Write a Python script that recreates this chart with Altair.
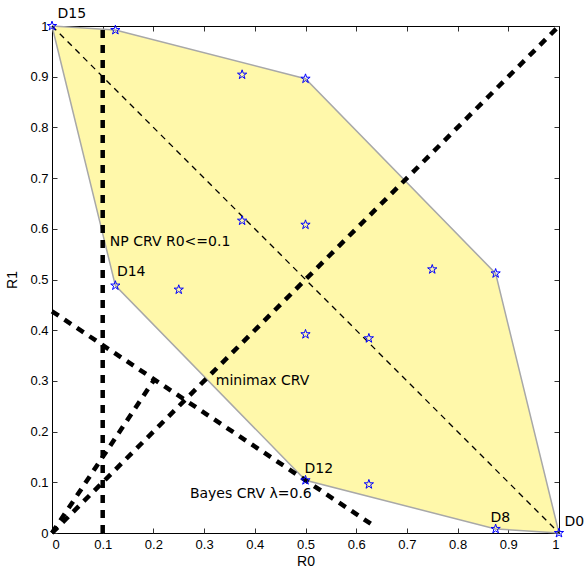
import altair as alt
import pandas as pd

# Risk points of the 16 decision rules D0..D15 (R0, R1)
rule_names = ["D%d" % i for i in range(16)]
rule_r0 = [1, 0.875, 0.625, 0.5, 0.625, 0.5, 0.25, 0.125,
           0.875, 0.75, 0.5, 0.375, 0.5, 0.375, 0.125, 0]
rule_r1 = [0, 0.512, 0.384, 0.896, 0.096, 0.608, 0.48, 0.992,
           0.008, 0.52, 0.392, 0.904, 0.104, 0.616, 0.488, 1]

# Convex hull of the risk set
hull_r0 = [0, 0.125, 0.5, 0.875, 1]
hull_upper = [1, 0.992, 0.896, 0.512, 0]
hull_lower = [1, 0.488, 0.104, 0.008, 0]

# Thin dashed line D15 -> D0
diag_r0 = [0, 1]
diag_r1 = [1, 0]

# Thick dashed CRV lines
crv_names = ["minimax", "minimax", "np", "np", "bayes", "bayes", "normal", "normal"]
crv_r0 = [0, 1, 0.1, 0.1, 0, 0.635, 0, 0.202]
crv_r1 = [0, 1, 0, 1, 0.4373, 0.014, 0, 0.303]

# Annotations
labels = ["D15", "D14", "D12", "D8", "D0", "NP CRV R0<=0.1", "minimax CRV", "Bayes CRV \u03bb=0.6"]
label_r0 = [0.011, 0.128, 0.498, 0.865, 1.011, 0.114, 0.323, 0.272]
label_r1 = [1.023, 0.515, 0.126, 0.029, 0.021, 0.574, 0.300, 0.077]

tick_values = [0, 0.1, 0.2, 0.3, 0.4, 0.5, 0.6, 0.7, 0.8, 0.9, 1]

W = 507
H = 507

points_df = pd.DataFrame({"name": rule_names, "r0": rule_r0, "r1": rule_r1})
hull_df = pd.DataFrame({"r0": hull_r0, "upper": hull_upper, "lower": hull_lower})
edge_df = pd.concat([
    pd.DataFrame({"r0": hull_r0, "r1": hull_upper, "side": "upper"}),
    pd.DataFrame({"r0": hull_r0, "r1": hull_lower, "side": "lower"}),
])
diag_df = pd.DataFrame({"r0": diag_r0, "r1": diag_r1})
crv_df = pd.DataFrame({"name": crv_names, "r0": crv_r0, "r1": crv_r1})
label_df = pd.DataFrame({"label": labels, "r0": label_r0, "r1": label_r1})

sc = alt.Scale(domain=[0, 1], nice=False, zero=False)

common = dict(values=tick_values, grid=False, tickColor="#333333",
              domainColor="black", domainWidth=1, tickWidth=1)

# Main axes with labels (bottom / left), no ticks
x_main = alt.Axis(orient="bottom", format="~g", tickSize=0, labelPadding=5,
                  labelFont="Liberation Sans", labelFontSize=13, labelColor="black",
                  title="R0", titleFont="Liberation Sans", titleFontSize=14,
                  titleFontWeight="normal", titleColor="black", titlePadding=3, **common)
y_main = alt.Axis(orient="left", format="~g", tickSize=0, labelPadding=4,
                  labelFont="Liberation Sans", labelFontSize=13, labelColor="black",
                  title="R1", titleFont="Liberation Sans", titleFontSize=14,
                  titleFontWeight="normal", titleColor="black", titlePadding=10, **common)

# Inward ticks at bottom / left edges
x_in_bottom = alt.Axis(orient="top", offset=-H, tickSize=5, labels=False, domain=False,
                       title=None, **common)
y_in_left = alt.Axis(orient="right", offset=-W, tickSize=5, labels=False, domain=False,
                     title=None, **common)

# Frame lines and inward ticks at top / right edges
x_in_top = alt.Axis(orient="bottom", offset=-H, tickSize=5, labels=False, domain=True,
                    title=None, **common)
y_in_right = alt.Axis(orient="left", offset=-W, tickSize=5, labels=False, domain=True,
                      title=None, **common)

area = alt.Chart(hull_df).mark_area(color="#fff8aa", opacity=1).encode(
    x=alt.X("r0:Q", scale=sc, axis=x_main),
    y=alt.Y("upper:Q", scale=sc, axis=y_main),
    y2="lower:Q",
)

edges = alt.Chart(edge_df).mark_line(color="#a8a8a8", strokeWidth=1.5).encode(
    x=alt.X("r0:Q", scale=sc, axis=x_in_bottom),
    y=alt.Y("r1:Q", scale=sc, axis=y_in_left),
    detail="side:N",
)

diag = alt.Chart(diag_df).mark_line(color="black", strokeWidth=1.3, strokeDash=[6, 5]).encode(
    x=alt.X("r0:Q", scale=sc, axis=x_in_top),
    y=alt.Y("r1:Q", scale=sc, axis=y_in_right),
)

crv = alt.Chart(crv_df).mark_line(color="black", strokeWidth=4.5, strokeDash=[8, 7],
                                   strokeCap="butt").encode(
    x=alt.X("r0:Q", scale=sc, axis=None),
    y=alt.Y("r1:Q", scale=sc, axis=None),
    detail="name:N",
)

star_path = ("M0,-1L0.225,-0.309L0.951,-0.309L0.363,0.118L0.588,0.809L0,0.382"
             "L-0.588,0.809L-0.363,0.118L-0.951,-0.309L-0.225,-0.309Z")

stars = alt.Chart(points_df).mark_point(shape=star_path, size=95, filled=False,
                                        color="#0000ff", strokeWidth=1, opacity=1).encode(
    x=alt.X("r0:Q", scale=sc, axis=None),
    y=alt.Y("r1:Q", scale=sc, axis=None),
)

texts = alt.Chart(label_df).mark_text(align="left", baseline="middle", font="DejaVu Sans",
                                      fontSize=14, color="black").encode(
    x=alt.X("r0:Q", scale=sc, axis=None),
    y=alt.Y("r1:Q", scale=sc, axis=None),
    text="label:N",
)

chart = alt.layer(area, edges, diag, crv, stars, texts).resolve_axis(
    x="independent", y="independent"
).properties(
    width=W, height=H,
    autosize=alt.AutoSizeParams(type="none"),
    padding={"left": 52, "top": 26, "right": 26, "bottom": 35},
).configure_view(stroke=None).configure(background="white")

chart.save("out.html", embed_options={"renderer": "svg", "actions": False})
